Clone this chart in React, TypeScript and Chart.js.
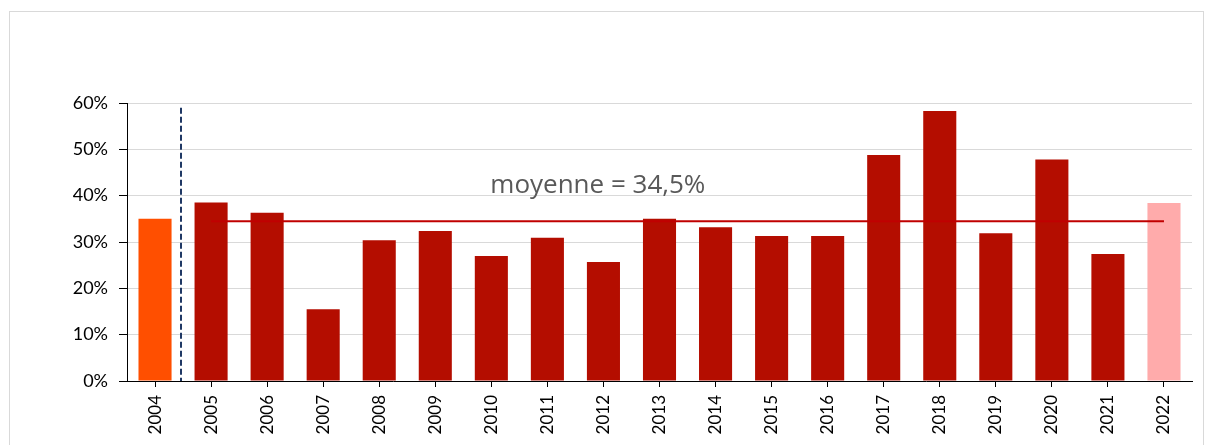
import React, { useEffect, useRef } from "react";
import { Chart, registerables } from "chart.js";

Chart.register(...registerables);

const years = ["2004", "2005", "2006", "2007", "2008", "2009", "2010", "2011", "2012", "2013", "2014", "2015", "2016", "2017", "2018", "2019", "2020", "2021", "2022"];
const values = [35.0, 38.5, 36.3, 15.5, 30.4, 32.4, 27.0, 30.9, 25.7, 35.0, 33.2, 31.3, 31.3, 48.8, 58.3, 31.9, 47.8, 27.4, 38.4];
const meanValue = 34.5;
const meanLabel = "moyenne = 34,5%";
const yMin = 0;
const yMax = 60;
const yStep = 10;

const FONT = "Lato";

const overlayPlugin = {
  id: "overlay",
  afterDatasetsDraw(chart: any) {
    const { ctx, scales } = chart;
    const x = scales.x;
    const y = scales.y;
    ctx.save();
    // dashed separator between first and second year
    const px = Math.round(x.getPixelForValue(0) + (x.getPixelForValue(1) - x.getPixelForValue(0)) * 0.47);
    ctx.strokeStyle = "#1F3864";
    ctx.lineWidth = 2;
    ctx.setLineDash([6, 3]);
    ctx.beginPath();
    ctx.moveTo(px, y.getPixelForValue(59));
    ctx.lineTo(px, y.getPixelForValue(0));
    ctx.stroke();
    ctx.setLineDash([]);
    // mean label
    ctx.fillStyle = "#595959";
    ctx.font = `26px "Open Sans"`;
    ctx.textAlign = "center";
    ctx.textBaseline = "alphabetic";
    ctx.fillText(meanLabel, x.getPixelForValue(7.9), y.getPixelForValue(40.6));
    ctx.restore();
  },
};

export default function App() {
  const ref = useRef<HTMLCanvasElement>(null);
  useEffect(() => {
    if (!ref.current) return;
    const n = years.length;
    const colors = years.map((_, i) => (i === 0 ? "#FF4F00" : i === n - 1 ? "#FFABAB" : "#B40D00"));
    const chart = new Chart(ref.current, {
      type: "bar",
      data: {
        labels: years,
        datasets: [
          {
            type: "line" as const,
            data: years.map((_, i) => (i === 0 ? null : meanValue)),
            borderColor: "#C00000",
            borderWidth: 2,
            pointRadius: 0,
            fill: false,
            order: 0,
          },
          {
            type: "bar" as const,
            data: values,
            backgroundColor: colors,
            borderWidth: 0,
            barPercentage: 0.59,
            categoryPercentage: 1,
            order: 1,
          },
        ],
      },
      options: {
        animation: false,
        responsive: false,
        maintainAspectRatio: false,
        layout: { padding: { top: 91, right: 11, left: 0, bottom: 0 } },
        plugins: { legend: { display: false }, tooltip: { enabled: false } },
        scales: {
          x: {
            offset: true,
            grid: {
              offset: false,
              drawOnChartArea: false,
              drawTicks: true,
              tickLength: 6,
              tickColor: "#000",
            },
            border: { color: "#000", width: 1 },
            ticks: {
              color: "#000",
              font: { family: FONT, size: 17 },
              minRotation: 90,
              maxRotation: 90,
              padding: 8,
              autoSkip: false,
            },
            afterFit(scale: any) {
              scale.height = 64;
            },
          },
          y: {
            min: yMin,
            max: yMax,
            grid: {
              color: "#D9D9D9",
              tickColor: "#000",
              tickLength: 8,
            },
            border: { color: "#000", width: 1 },
            ticks: {
              stepSize: yStep,
              color: "#000",
              font: { family: FONT, size: 18 },
              padding: 11,
              callback: (v: any) => `${v}%`,
            },
            afterFit(scale: any) {
              scale.width = 117;
            },
          },
        },
      },
      plugins: [overlayPlugin],
    });
    return () => chart.destroy();
  }, []);
  return (
    <div
      style={{
        position: "absolute",
        left: 9,
        top: 11,
        width: 1193,
        height: 440,
        border: "1px solid #D9D9D9",
        borderBottom: "none",
        background: "#fff",
        overflow: "hidden",
      }}
    >
      <canvas ref={ref} width={1193} height={433} style={{ display: "block" }} />
    </div>
  );
}
